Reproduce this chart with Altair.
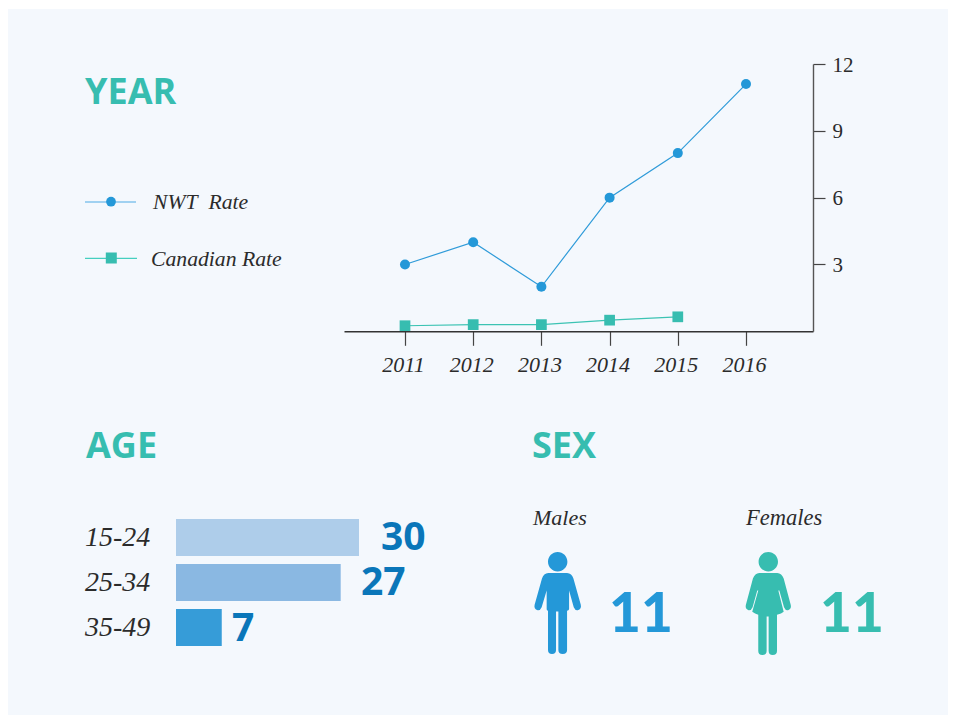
import altair as alt
import pandas as pd

# ---------- data ----------
years = [2011, 2012, 2013, 2014, 2015, 2016]
nwt_rate = [3, 4, 2, 6, 8, 11.1]
canada_years = [2011, 2012, 2013, 2014, 2015]
canada_rate = [0.25, 0.3, 0.3, 0.5, 0.65]
age_groups = ["15-24", "25-34", "35-49"]
age_bar_lengths = [30, 27, 7.5]
age_labels = ["30", "27", "7"]
year_ticks = [2011, 2012, 2013, 2014, 2015, 2016]
rate_ticks = [3, 6, 9, 12]

W, H = 940, 707
SERIF = "Liberation Serif"
SANS = "Open Sans"
TEAL = "#37bdb0"
BLUE = "#2498d8"
DARK_BLUE = "#0a76b9"
INK = "#2b2b2b"
one = pd.DataFrame({"a": [0]})


def px(v):
    return alt.value(v - 8)


def label(s, x, y, size, color=INK, font=SERIF, weight="normal", style="italic", align="left"):
    return alt.Chart(one).mark_text(
        text=s, font=font, fontSize=size, fontWeight=weight, fontStyle=style,
        color=color, align=align, baseline="alphabetic",
    ).encode(x=px(x), y=px(y))


x_scale = alt.Scale(domain=[2010.1056, 2016.9824], range=[336, 805], nice=False, zero=False)
y_scale = alt.Scale(domain=[0, 12], range=[323.3, 56], nice=False, zero=False)
x_none = alt.X("year:Q", scale=x_scale, axis=None)
y_none = alt.Y("rate:Q", scale=y_scale, axis=None)

nwt_df = pd.DataFrame({"year": years, "rate": nwt_rate})
can_df = pd.DataFrame({"year": canada_years, "rate": canada_rate})

panel = alt.Chart(one).mark_rect(color="#f4f8fd").encode(
    x=alt.value(0), x2=alt.value(W), y=alt.value(1), y2=alt.value(H)
)

axes = alt.Chart(nwt_df).mark_line(opacity=0).encode(
    x=alt.X("year:Q", scale=x_scale, title=None, axis=alt.Axis(
        values=year_ticks, format="d", orient="bottom", offset=323.3 - H, grid=False, zindex=1,
        domainColor="#333333", domainWidth=1.4, tickColor="#444444", tickWidth=1.2, tickSize=14,
        labelFont=SERIF, labelFontStyle="italic", labelFontSize=22, labelColor=INK,
        labelPadding=9, labelOffset=-2, labelFlush=False, labelOverlap=False)),
    y=alt.Y("rate:Q", scale=y_scale, title=None, axis=alt.Axis(
        values=rate_ticks, format="d", orient="right", offset=805 - W, grid=False, zindex=1,
        domainColor="#555555", domainWidth=1.4, tickColor="#444444", tickWidth=1.2, tickSize=12,
        labelFont=SERIF, labelFontSize=21, labelColor=INK, labelPadding=7, labelOffset=1, labelFlush=False)),
)

nwt_line = alt.Chart(nwt_df).mark_line(color="#2f9bd9", strokeWidth=1.2).encode(x=x_none, y=y_none)
nwt_pts = alt.Chart(nwt_df).mark_point(shape="circle", filled=True, size=100, color=BLUE, opacity=1).encode(x=x_none, y=y_none)
can_line = alt.Chart(can_df).mark_line(color="#3cc3b3", strokeWidth=1.2).encode(x=x_none, y=y_none)
can_pts = alt.Chart(can_df).mark_point(shape="square", filled=True, size=115, color=TEAL, opacity=1).encode(x=x_none, y=y_none)

# legend key
key1 = alt.Chart(one).mark_rule(color="#85c5ec", strokeWidth=1.3).encode(x=px(85), x2=px(136), y=px(202))
key1p = alt.Chart(one).mark_point(shape="circle", filled=True, size=95, color=BLUE, opacity=1).encode(x=px(111), y=px(201.7))
key2 = alt.Chart(one).mark_rule(color="#45cfc0", strokeWidth=1.3).encode(x=px(85), x2=px(137), y=px(258.3))
key2p = alt.Chart(one).mark_point(shape="square", filled=True, size=121, color=TEAL, opacity=1).encode(x=px(111.3), y=px(258))

# age bars
age_df = pd.DataFrame({"age": age_groups, "n": age_bar_lengths})
bars = alt.Chart(age_df).mark_bar(cornerRadius=0).encode(
    x=alt.X("n:Q", scale=alt.Scale(domain=[0, 30], range=[168, 351], nice=False), axis=None),
    y=alt.Y("age:N", sort=age_groups, axis=None,
            scale=alt.Scale(domain=age_groups, range=[507, 642], paddingInner=8 / 45, paddingOuter=4 / 45)),
    color=alt.Color("age:N", legend=None, scale=alt.Scale(
        domain=age_groups, range=["#aecdea", "#8ab8e2", "#369cd8"])),
)


def person_path(points, cx):
    cy, r = 309.5, 152.5
    out = []
    for tok in points.split():
        if "," in tok:
            a, b = tok.split(",")
            out.append(f"{(float(a) - cx) / r:.4f},{(float(b) - cy) / r:.4f}")
        else:
            out.append(tok)
    return " ".join(out)


def head(cx):
    k = 16
    return (f"M {cx},157 C {cx+k},157 {cx+29},170 {cx+29},186 C {cx+29},202 {cx+k},215 {cx},215 "
            f"C {cx-k},215 {cx-29},202 {cx-29},186 C {cx-29},170 {cx-k},157 {cx},157 Z ")


male = head(113) + (
    "M 85,220 L 141,220 Q 155,221 160,236 L 182,315 Q 185,328 173,331 Q 165,332 161,322 L 147,272 "
    "L 147,328 Q 146,332 141,333 L 141,450 Q 141,462 128,462 Q 115,462 115,450 L 115,335 L 108,335 "
    "L 108,450 Q 108,462 96,462 Q 84,462 84,450 L 84,333 Q 80,332 80,328 L 80,272 L 65,322 "
    "Q 61,332 53,331 Q 41,328 44,315 L 66,236 Q 71,221 85,220 Z"
)
female = head(745) + (
    "M 718,220 L 772,220 Q 785,221 791,236 L 812,315 Q 815,328 804,331 Q 796,332 792,322 L 778,272 "
    "L 775,272 L 791,336 Q 785,342 771,345 L 771,453 Q 771,465 758,465 Q 746,465 746,453 L 746,350 "
    "L 744,350 L 744,350 L 740,350 L 740,453 Q 740,465 727,465 Q 715,465 715,453 L 715,345 "
    "Q 705,342 697,336 L 715,272 L 712,272 L 698,322 Q 694,332 686,331 Q 675,328 678,315 "
    "L 699,236 Q 705,221 718,220 Z"
)
icon_m = alt.Chart(one).mark_point(shape=person_path(male, 113), filled=True, size=102 ** 2,
                                   color=BLUE, opacity=1, strokeWidth=0).encode(x=px(557.7), y=px(603))
icon_f = alt.Chart(one).mark_point(shape=person_path(female, 745), filled=True, size=102 ** 2,
                                   color=TEAL, opacity=1, strokeWidth=0).encode(x=px(768.3), y=px(603))

texts = [
    label("YEAR", 85, 104, 36, TEAL, SANS, "bold", "normal"),
    label("AGE", 86, 458, 36, TEAL, SANS, "bold", "normal"),
    label("SEX", 532, 458, 36, TEAL, SANS, "bold", "normal"),
    label("NWT\u00a0\u00a0Rate", 153, 209, 21.7),
    label("Canadian Rate", 151, 266, 21.7),
    label(age_groups[0], 85, 546, 28),
    label(age_groups[1], 85, 591, 28),
    label(age_groups[2], 85, 636, 28),
    label(age_labels[0], 381, 550, 39, DARK_BLUE, SANS, "bold", "normal"),
    label(age_labels[1], 361, 595, 39, DARK_BLUE, SANS, "bold", "normal"),
    label(age_labels[2], 232, 641, 39, DARK_BLUE, SANS, "bold", "normal"),
    label("Males", 533, 525, 22),
    label("Females", 746, 525, 22.5),
    label("11", 609, 632, 55, BLUE, "Lato", 900, "normal"),
    label("11", 820, 632, 55, TEAL, "Lato", 900, "normal"),
]

chart = alt.layer(
    panel, axes, nwt_line, nwt_pts, can_line, can_pts, key1, key1p, key2, key2p, bars, icon_m, icon_f, *texts
).resolve_scale(x="independent", y="independent", color="independent").resolve_axis(
    x="independent", y="independent"
).properties(
    width=W, height=H, padding=0, background="#ffffff", autosize=alt.AutoSizeParams(type="none")
).configure_view(stroke=None)

chart.save("out.html", embed_options={"renderer": "svg", "actions": False})
